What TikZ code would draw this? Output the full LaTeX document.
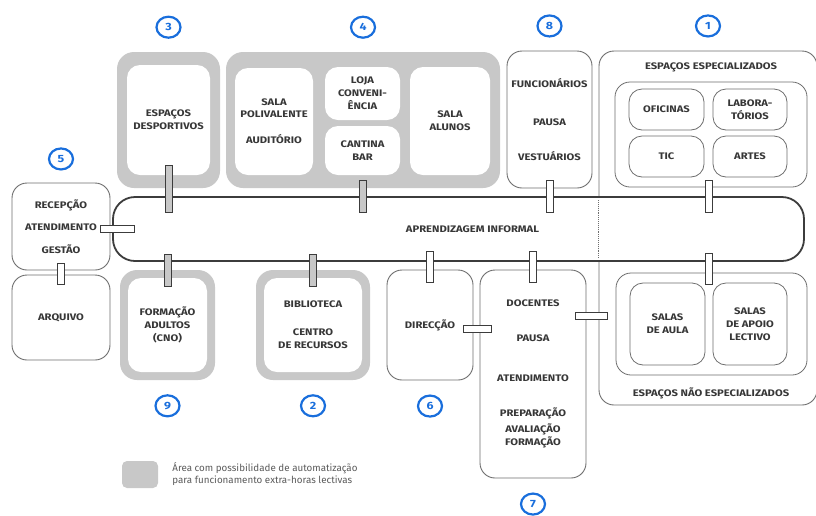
\documentclass[tikz,border=0pt]{standalone}
\usepackage{fontspec}
\setmainfont{Fira Sans}
\newfontfamily\boxfont[FakeStretch=1.18]{Fira Sans}
\usepackage{tikz}
\usetikzlibrary{positioning,shapes.geometric}
\usepackage{xcolor}
\definecolor{areagray}{RGB}{200,200,200}
\definecolor{linegray}{RGB}{110,110,110}
\definecolor{bandgray}{RGB}{60,60,60}
\definecolor{txtgray}{RGB}{55,55,55}
\definecolor{leggray}{RGB}{90,90,90}
\definecolor{nrblue}{RGB}{25,110,220}
\newcommand{\lbl}{\boxfont\bfseries\fontsize{9.5}{13}\selectfont}
\tikzstyle{room} = [rectangle, rounded corners=15pt, draw=linegray, fill=white, line width=0.9pt, text=txtgray, align=center, font=\lbl]
\tikzstyle{cell} = [rectangle, rounded corners=13pt, draw=linegray, fill=white, line width=0.8pt, text=txtgray, align=center, font=\lbl]
\tikzstyle{area} = [rectangle, rounded corners=17pt, fill=areagray]
\tikzstyle{slot} = [rectangle, rounded corners=13pt, fill=white, text=txtgray, align=center, font=\lbl]
\tikzstyle{hall} = [rectangle, rounded corners=22pt, draw=bandgray, fill=white, line width=1.8pt]
\tikzstyle{num} = [ellipse, draw=nrblue, line width=2.2pt, text=nrblue, minimum width=24pt, minimum height=21pt, inner sep=0pt, font=\boxfont\bfseries\fontsize{10.5}{10.5}\selectfont]
\tikzstyle{clipw} = [draw=bandgray, fill=white, line width=0.8pt]
\tikzstyle{clipg} = [draw=bandgray, fill=areagray, line width=0.8pt]
\begin{document}
\begin{tikzpicture}[x=1pt, y=-1pt]
\useasboundingbox (0,0) rectangle (816,515);

% Espacos especializados / nao especializados
\node (esp) [room, minimum width=218pt, minimum height=354pt] at (708,228) {};
\node (esptit) [text=txtgray, font=\lbl] at ([xshift=3pt,yshift=-17pt]esp.north) {ESPAÇOS ESPECIALIZADOS};
\node (espin) [cell, rounded corners=15pt, minimum width=192pt, minimum height=105pt] at (711,134.5) {};
\node (ofic) [cell, minimum width=75pt, minimum height=41pt] at (666.5,109.5) {OFICINAS};
\node (lab) [cell, minimum width=74pt, minimum height=41pt] at (750,109.5) {LABORA-\\TÓRIOS};
\node (tic) [cell, minimum width=75pt, minimum height=41pt] at (666.5,156.5) {TIC};
\node (artes) [cell, minimum width=74pt, minimum height=41pt] at (750,156.5) {ARTES};
\node (nespin) [cell, rounded corners=15pt, minimum width=191pt, minimum height=102pt] at (711.5,324) {};
\node (aula) [cell, minimum width=75pt, minimum height=82pt] at (667.5,324) {SALAS\\DE AULA};
\node (apoio) [cell, minimum width=74pt, minimum height=82pt] at (750,324) {SALAS\\DE APOIO\\LECTIVO};
\node (nesptit) [text=txtgray, font=\lbl] at ([xshift=3pt,yshift=12pt]esp.south) {ESPAÇOS NÃO ESPECIALIZADOS};

% Aprendizagem informal
\node (band) [hall, minimum width=691pt, minimum height=64pt] at (458.5,229) {};
\node (bandtxt) [text=txtgray, font=\lbl] at ([xshift=14pt]band.center) {APRENDIZAGEM INFORMAL};
\draw[densely dotted, linegray, line width=0.9pt] ([yshift=-4pt]esp.west |- band.north) -- ([yshift=4pt]esp.west |- band.south);

% Recepcao
\node (rec) [room, minimum width=98pt, minimum height=87pt] at (61,226.5) {RECEPÇÃO\\[9.5pt]ATENDIMENTO\\[9.5pt]GESTÃO};
\node (arq) [room, minimum width=98pt, minimum height=85pt] at (61,317.5) {ARQUIVO};

% Espacos desportivos
\node (spt) [area, minimum width=103pt, minimum height=136pt] at (168.5,120) {};
\node (sptin) [slot, minimum width=83pt, minimum height=110pt] at (spt) {ESPAÇOS\\DESPORTIVOS};

% Sala polivalente, loja, cantina, alunos
\node (soc) [area, minimum width=274pt, minimum height=136pt] at (363,120) {};
\node (poli) [slot, minimum width=78pt, minimum height=107pt] at (274,121.5) {SALA\\[-1pt]POLIVALENTE\\[13pt]AUDITÓRIO};
\node (loja) [slot, minimum width=75pt, minimum height=53pt] at (362.5,93.5) {LOJA\\CONVENI-\\ÊNCIA};
\node (cant) [slot, minimum width=75pt, minimum height=49pt] at (362.5,150.5) {CANTINA\\BAR};
\node (alu) [slot, minimum width=80pt, minimum height=108pt] at (450,121) {SALA\\ALUNOS};

% Funcionarios
\node (func) [room, minimum width=85pt, minimum height=137pt] at (549.5,119.5) {FUNCIONÁRIOS\\[25pt]PAUSA\\[22pt]VESTUÁRIOS};

% Formacao adultos
\node (adu) [area, minimum width=95pt, minimum height=110pt] at (167.5,325) {};
\node (aduin) [slot, minimum width=79pt, minimum height=94pt] at (adu) {FORMAÇÃO\\ADULTOS\\(CNO)};

% Biblioteca
\node (bib) [area, minimum width=114pt, minimum height=110pt] at (313,325) {};
\node (bibin) [slot, minimum width=98pt, minimum height=94pt] at (bib) {BIBLIOTECA\\[15pt]CENTRO\\DE RECURSOS};

% Direccao
\node (dir) [room, minimum width=86pt, minimum height=110pt] at (430,325) {DIRECÇÃO};

% Docentes
\node (doc) [room, minimum width=106pt, minimum height=208pt] at (533,374) {DOCENTES\\[22pt]PAUSA\\[27pt]ATENDIMENTO\\[22pt]PREPARAÇÃO\\[3pt]AVALIAÇÃO\\FORMAÇÃO};

% Numbers
\node (n3) [num, above=13pt of spt] {3};
\node (n4) [num, above=13pt of soc] {4};
\node (n8) [num, above=13pt of func] {8};
\node (n1) [num, above=13pt of esp] {1};
\node (n5) [num, above=12pt of rec] {5};
\node (n9) [num, below=14pt of adu] {9};
\node (n2) [num, below=14pt of bib] {2};
\node (n6) [num, below=14pt of dir] {6};
\node (n7) [num, below=14pt of doc] {7};

% Connectors
\draw[clipg] ([xshift=-3.5pt,yshift=10pt]sptin.south) rectangle ([xshift=3.5pt,yshift=-16pt]sptin.south |- band.north);
\draw[clipg] ([xshift=-3.5pt,yshift=8pt]cant.south |- soc.south) rectangle ([xshift=3.5pt,yshift=-16pt]cant.south |- band.north);
\draw[clipw] ([xshift=-3.5pt,yshift=8pt]func.south) rectangle ([xshift=3.5pt,yshift=-16pt]func.south |- band.north);
\draw[clipw] ([xshift=-5.5pt,yshift=7pt]espin.south) rectangle ([xshift=1.5pt,yshift=-16pt]espin.south |- band.north);
\draw[clipg] ([xshift=-3.5pt,yshift=8pt]aduin.north |- band.south) rectangle ([xshift=3.5pt,yshift=-9pt]aduin.north);
\draw[clipg] ([xshift=-3.5pt,yshift=8pt]bibin.north |- band.south) rectangle ([xshift=3.5pt,yshift=-9pt]bibin.north);
\draw[clipw] ([xshift=-3.5pt,yshift=11pt]dir.north |- band.south) rectangle ([xshift=3.5pt,yshift=-13pt]dir.north);
\draw[clipw] ([xshift=-3.5pt,yshift=11pt]doc.north |- band.south) rectangle ([xshift=3.5pt,yshift=-13pt]doc.north);
\draw[clipw] ([xshift=-6pt,yshift=9pt]nespin.north |- band.south) rectangle ([xshift=1pt,yshift=-12pt]nespin.north);
\draw[clipw] ([xshift=-3.5pt,yshift=7pt]rec.south) rectangle ([xshift=3.5pt,yshift=-10pt]arq.north);
\draw[clipw] ([xshift=-10pt,yshift=1.5pt]rec.east) rectangle ([xshift=22pt,yshift=-5.5pt]rec.east -| band.west);
\draw[clipw] ([xshift=-10pt]dir.east) rectangle ([xshift=12pt,yshift=-7pt]dir.east -| doc.west);
\draw[clipw] ([xshift=-11pt,yshift=62pt]doc.east) rectangle ([xshift=9pt,yshift=55pt]doc.east -| esp.west);

% Legend
\node (leg) [area, rounded corners=5pt, minimum width=36pt, minimum height=27pt] at (140,474.5) {};
\node (legtxt) [right=14pt of leg, inner sep=0pt, align=left, text=leggray, font=\fontsize{9.8}{12}\selectfont] {Área com possibilidade de automatização\\para funcionamento extra-horas lectivas};
\end{tikzpicture}
\end{document}
